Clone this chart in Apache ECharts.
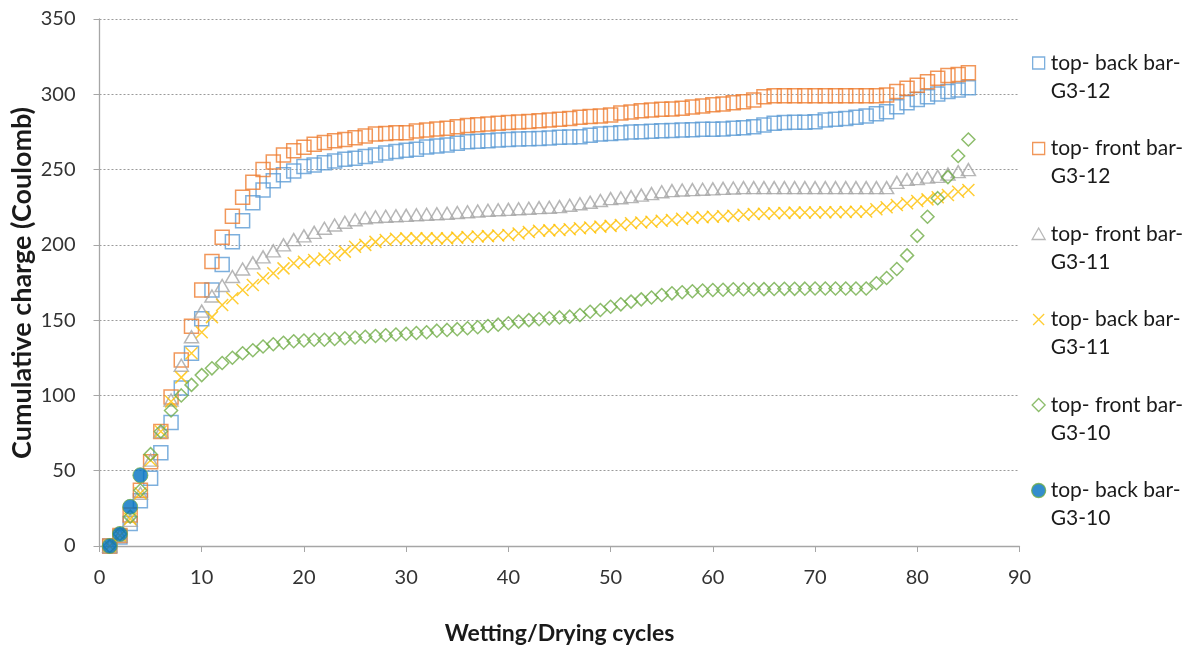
<!DOCTYPE html>
<html>
<head>
<meta charset="utf-8">
<script src="https://cdn.jsdelivr.net/npm/echarts@6/dist/echarts.min.js"></script>
<style>html,body{margin:0;padding:0;background:#fff;}#c{width:1199px;height:649px;}</style>
</head>
<body>
<div id="c"></div>
<script>
const cycles = [1,2,3,4,5,6,7,8,9,10,11,12,13,14,15,16,17,18,19,20,21,22,23,24,25,26,27,28,29,30,31,32,33,34,35,36,37,38,39,40,41,42,43,44,45,46,47,48,49,50,51,52,53,54,55,56,57,58,59,60,61,62,63,64,65,66,67,68,69,70,71,72,73,74,75,76,77,78,79,80,81,82,83,84,85];

const backG312 = [0,6,15,30,45,62,82,105,128,151,170,187,202,216,228,236.5,242.5,246.5,249,252,253,254.5,255.7,256.8,257.5,258.6,259.7,261,262,262.8,263.5,265,265.7,266.3,267.5,268.5,268.8,269.2,269.6,270,270.3,270.5,270.7,271,271.4,271.6,271.8,272.8,273.6,274,274.5,275,275.2,275.5,275.8,276,276.3,276.5,276.7,276.8,277,277.4,277.8,278.5,279.6,280.7,281.2,281.4,281.5,281.8,283,283.5,284,284.8,285.6,287,288.4,291.8,294.4,296.6,298.4,300.2,301.8,302.9,304.4];

const frontG312 = [0,7,20.6,37,56,76,99,123.5,146,170,189,205,219,231.6,241.5,250,255,259.7,262.5,264.8,266.8,268,269.2,270,271.2,272.3,273.6,274,274.5,274.5,275.6,276.3,277,277.4,278.5,279.2,279.8,280.3,280.8,281.2,281.6,282,282.5,283,283.4,284,284.7,285.2,285.6,286.3,287.5,288.3,289.1,289.5,290,290.3,290.7,291.5,292.2,293,293.6,294.3,295.1,296.2,298.4,299,299,299,299,299,299,299,299,299,299,299,299.5,301.8,304,306,308.4,310.6,312.4,313.2,314.3];

const frontG311 = [0,7,17,35,57,76,97,120,139,156,166,173,179,184,188,192,196,200,203.5,206,208.3,211,213.2,215,216.7,218,218.7,219,219.3,219.6,220,220.3,220.7,221,221.5,222,222.5,223,223.3,223.6,224,224.3,224.7,225,225.4,226.3,227.3,228.3,229.5,230.7,231.3,232,233,234,235.3,236,236.4,236.7,236.9,237.2,237.5,237.8,238,238,238,238,238,238,238,238,238,238,238,238,238,238,238,241.5,243.5,244,245,245.5,247,248.6,250];

const backG311 = [0,7,18,35,57,76,96,112,128,142,152,160,164.5,170,173.3,177.8,181.1,184.4,187.8,188.8,190,191,193.3,195.5,198.8,200,202,203.2,204,204.3,204.3,204.3,204.3,204.3,204.8,205.2,205.5,205.8,206.2,206.5,207.5,208.5,209.4,209.6,209.9,210.4,211,211.5,212.1,212.6,213.2,214.3,214.8,215.4,216,216.5,217.3,218,218.3,218.7,219,219.3,220,220.5,220.7,221,221.2,221.4,221.5,221.5,221.6,221.7,221.8,222,222.1,223.6,225,226.5,227.6,229.1,230.2,231.6,233.1,235.3,236.4];

const frontG310 = [0,8,19.5,37,61,76,90,100,107,113.5,118,121.5,125,128,130,132.5,134,135,136,136.5,137,137,137.5,138,138.5,139,139.5,140,140.5,141,141.5,142,143,143.5,144,144.6,145.3,146.1,147,147.9,149,150,150.6,151.2,151.8,152.3,153.4,155.6,156.7,158.9,160.5,162.3,163.8,165,166.7,167.8,168.5,169.2,169.7,170,170.2,170.5,170.5,170.5,170.6,170.7,170.8,170.8,170.9,171,171,171,171,171,171,174.5,178,184,193,206,218.7,231,245,259,270];

const backG310Cycles = [1,2,3,4];
const backG310 = [0,8,26,47];

const seriesNames = ['top- back bar-G3-12','top- front bar-G3-12','top- front bar-G3-11','top- back bar-G3-11','top- front bar-G3-10','top- back bar-G3-10'];
const yTicks = {min:0, max:350, interval:50};
const xTicks = {min:0, max:90, interval:10};
const xTitle = 'Wetting/Drying cycles';
const yTitle = 'Cumulative charge (Coulomb)';

function pairs(xs, ys){ return ys.map((v,i)=>[xs[i], v]); }

const FONT = 'Lato';
const xPath = 'path://M0,0L10,10M10,0L0,10';
// legend icons: symbol drawn in the top 14px of a 14x42 box so it sits beside the first text line
const legSquare = 'path://M1,1L13,1L13,13L1,13Z M0,0 M14,42';
const legTri = 'path://M7,1L13.5,12.5L0.5,12.5Z M0,0 M14,42';
const legX = 'path://M1.5,1.5L12.5,12.5M12.5,1.5L1.5,12.5 M0,0 M14,42';
const legDiamond = 'path://M7,0.5L13.5,7L7,13.5L0.5,7Z M0,0 M14,42';
const legCircle = 'path://M14,7A7,7,0,1,1,0,7A7,7,0,1,1,14,7Z M0,0 M14,42';

const chart = echarts.init(document.getElementById('c'), null, {renderer:'canvas'});
chart.setOption({
  animation:false,
  backgroundColor:'#fff',
  textStyle:{fontFamily:FONT},
  grid:{left:99.5, right:179.5, top:19, bottom:103, containLabel:false, outerBoundsMode:'none'},
  graphic:[{
    type:'text', x:22, y:283, rotation:Math.PI/2,
    style:{text:yTitle, fontFamily:FONT, fontWeight:'bold', fontSize:27, fill:'#1a1a1a', align:'center', verticalAlign:'middle'}
  }],
  xAxis:{
    type:'value', min:xTicks.min, max:xTicks.max, interval:xTicks.interval,
    name:xTitle, nameLocation:'middle', nameGap:76,
    nameTextStyle:{fontFamily:FONT, fontWeight:'bold', fontSize:23, color:'#1a1a1a'},
    axisLine:{lineStyle:{color:'#A6A6A6', width:1.3}},
    axisTick:{show:true, inside:false, length:6, lineStyle:{color:'#A6A6A6'}},
    axisLabel:{fontFamily:FONT, fontSize:20, color:'#333', margin:22},
    splitLine:{show:false}
  },
  yAxis:{
    type:'value', min:yTicks.min, max:yTicks.max, interval:yTicks.interval,
    axisLine:{show:true, lineStyle:{color:'#A6A6A6', width:1.3}},
    axisTick:{show:true, inside:false, length:6, lineStyle:{color:'#A6A6A6'}},
    axisLabel:{fontFamily:FONT, fontSize:20, color:'#333', margin:24},
    splitLine:{show:true, lineStyle:{color:'#9a9a9a', type:[2,2], width:1}}
  },
  legend:{
    orient:'vertical', left:1026, top:44, itemWidth:14, itemHeight:42, itemGap:29.5,
    symbolKeepAspect:true,
    itemStyle:{borderWidth:1.3},
    textStyle:{fontFamily:FONT, fontSize:21, color:'#1a1a1a', lineHeight:28},
    formatter: function(n){ return n.replace('bar-', 'bar-\n'); },
    data:[
      {name:seriesNames[0], icon:legSquare},
      {name:seriesNames[1], icon:legSquare},
      {name:seriesNames[2], icon:legTri},
      {name:seriesNames[3], icon:legX},
      {name:seriesNames[4], icon:legDiamond},
      {name:seriesNames[5], icon:legCircle}
    ]
  },
  series:[
    {name:seriesNames[0], type:'scatter', data:pairs(cycles, backG312), symbol:'rect', symbolSize:14,
     itemStyle:{color:'transparent', borderColor:'#5B9BD5', borderWidth:1.5}},
    {name:seriesNames[1], type:'scatter', data:pairs(cycles, frontG312), symbol:'rect', symbolSize:14,
     itemStyle:{color:'transparent', borderColor:'#ED7D31', borderWidth:1.5}},
    {name:seriesNames[2], type:'scatter', data:pairs(cycles, frontG311), symbol:'triangle', symbolSize:[14,12],
     itemStyle:{color:'transparent', borderColor:'#A5A5A5', borderWidth:1.5}},
    {name:seriesNames[3], type:'scatter', data:pairs(cycles, backG311), symbol:xPath, symbolSize:12,
     itemStyle:{color:'transparent', borderColor:'#FFC000', borderWidth:1.5}},
    {name:seriesNames[4], type:'scatter', data:pairs(cycles, frontG310), symbol:'diamond', symbolSize:13,
     itemStyle:{color:'transparent', borderColor:'#70AD47', borderWidth:1.5}},
    {name:seriesNames[5], type:'scatter', data:pairs(backG310Cycles, backG310), symbol:'circle', symbolSize:15,
     itemStyle:{color:'#0070C0', borderColor:'#70AD47', borderWidth:1}}
  ]
});
</script>
</body>
</html>
